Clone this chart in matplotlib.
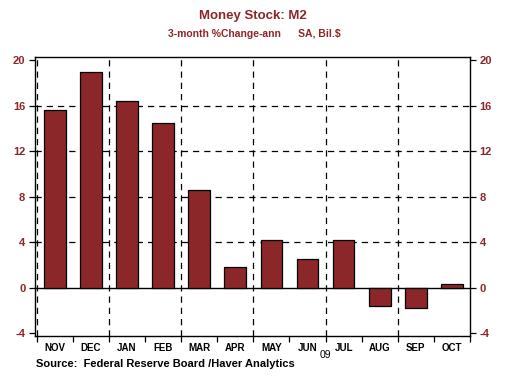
import numpy as np
import matplotlib
matplotlib.use('Agg')
import matplotlib.pyplot as plt

# Données
months = ['NOV', 'DEC', 'JAN', 'FEB', 'MAR', 'APR', 'MAY', 'JUN', 'JUL', 'AUG', 'SEP', 'OCT']
values = [15.6, 18.95, 16.4, 14.5, 8.6, 1.85, 4.15, 2.5, 4.15, -1.6, -1.75, 0.3]
yticks = [-4, 0, 4, 8, 12, 16, 20]

red = '#8B2629'
plt.rcParams['font.family'] = ['Liberation Sans', 'DejaVu Sans']

fig = plt.figure(figsize=(5.24, 3.81), dpi=100)
ax = fig.add_axes([0.0668, 0.118, 0.83, 0.732])

x = np.arange(len(months))
ax.bar(x, values, width=0.6, color=red, edgecolor='black', linewidth=0.9, zorder=3)

ax.set_xlim(-0.55, 11.5)
ax.set_ylim(-4.25, 20.25)

# grilles
for yv in [4, 8, 12, 16]:
    ax.axhline(yv, color='black', linestyle=(0, (5, 4)), linewidth=0.9, zorder=1)
for xv in [-0.5, 1.5, 3.5, 5.5, 7.5, 9.5]:
    ax.axvline(xv, color='black', linestyle=(0, (5, 4)), linewidth=0.9, zorder=1)
ax.axhline(0, color='black', linewidth=1.0, zorder=2)

# axe y (gauche et droite)
ax.set_yticks(yticks)
ax.set_yticklabels([str(v) for v in yticks], color=red, fontsize=8, fontweight='bold')
ax.tick_params(axis='y', direction='out', length=4, width=0.9, left=True, right=True,
               labelleft=True, labelright=True, pad=3)

# axe x : étiquettes au centre, petits traits entre les mois
ax.set_xticks(x)
ax.set_xticklabels(months, fontsize=7, fontweight='bold')
ax.set_xticks(np.arange(-0.5, 12, 1), minor=True)
ax.tick_params(axis='x', which='major', length=0, pad=5)
ax.tick_params(axis='x', which='minor', direction='out', length=4, width=0.9)

for s in ax.spines.values():
    s.set_linewidth(1.0)

# textes
fig.text(0.482, 0.958, 'Money Stock: M2', color=red, fontsize=9.5, fontweight='bold', ha='center', va='center')
fig.text(0.486, 0.912, '3-month %Change-ann      SA, Bil.$', color=red, fontsize=7.5, fontweight='bold', ha='center', va='center')
ax.text(7.5, -5.9, '09', fontsize=7.5, ha='center', va='center')
fig.text(0.069, 0.045, 'Source:  Federal Reserve Board /Haver Analytics', fontsize=8, fontweight='bold', ha='left', va='center')

fig.savefig('out.png', dpi=100)
